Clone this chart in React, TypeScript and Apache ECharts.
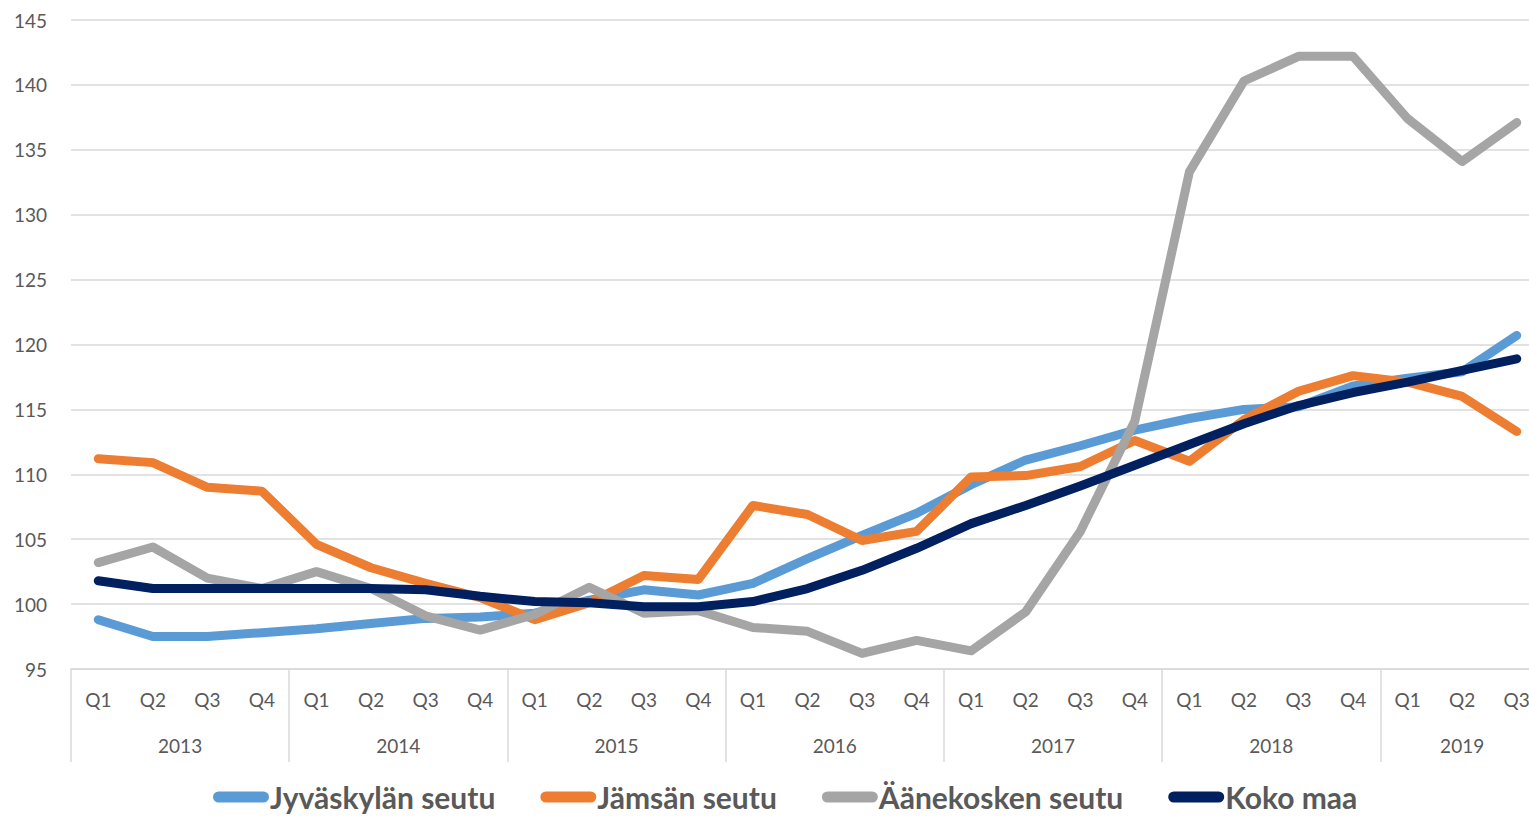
import React, { useEffect, useRef } from "react";
import * as echarts from "echarts";

const quarters = [
  "Q1","Q2","Q3","Q4","Q1","Q2","Q3","Q4","Q1","Q2","Q3","Q4","Q1","Q2","Q3","Q4",
  "Q1","Q2","Q3","Q4","Q1","Q2","Q3","Q4","Q1","Q2","Q3",
];
const yearOfQuarter = [
  "2013","2013","2013","2013","2014","2014","2014","2014","2015","2015","2015","2015",
  "2016","2016","2016","2016","2017","2017","2017","2017","2018","2018","2018","2018",
  "2019","2019","2019",
];

const seriesNames = ["Jyväskylän seutu", "Jämsän seutu", "Äänekosken seutu", "Koko maa"];
const seriesColors = ["#5B9BD5", "#ED7D31", "#A5A5A5", "#002060"];

const jyvaskyla = [
  98.8, 97.5, 97.5, 97.8, 98.1, 98.5, 98.9, 99.0, 99.3, 100.3, 101.1, 100.7, 101.6, 103.5,
  105.3, 107.0, 109.2, 111.1, 112.2, 113.4, 114.3, 115.0, 115.2, 116.8, 117.4, 117.9, 120.7,
];
const jamsa = [
  111.2, 110.9, 109.0, 108.7, 104.6, 102.8, 101.6, 100.5, 98.8, 100.1, 102.2, 101.9, 107.6,
  106.9, 104.9, 105.6, 109.8, 109.9, 110.6, 112.6, 111.0, 114.2, 116.4, 117.6, 117.1, 116.0, 113.3,
];
const aanekoski = [
  103.2, 104.4, 102.0, 101.2, 102.5, 101.2, 99.1, 98.0, 99.2, 101.3, 99.3, 99.5, 98.2, 97.9,
  96.2, 97.2, 96.4, 99.4, 105.6, 114.1, 133.3, 140.3, 142.2, 142.2, 137.4, 134.1, 137.1,
];
const kokoMaa = [
  101.8, 101.2, 101.2, 101.2, 101.2, 101.2, 101.1, 100.6, 100.2, 100.1, 99.8, 99.8, 100.2,
  101.2, 102.6, 104.3, 106.2, 107.6, 109.1, 110.7, 112.3, 113.9, 115.3, 116.3, 117.1, 118.0, 118.9,
];
const allValues = [jyvaskyla, jamsa, aanekoski, kokoMaa];

const yMin = 95;
const yMax = 145;
const yStep = 5;

const FONT = "Lato, Carlito, Calibri, sans-serif";
const TXT = "#595959";
const GRIDC = "#D9D9D9";
const pill = "path://M6,0 L54,0 A6,6 0 0 1 54,12 L6,12 A6,6 0 0 1 6,0 Z";

export default function App() {
  const ref = useRef<HTMLDivElement>(null);
  useEffect(() => {
    document.body.style.margin = "0";
    document.body.style.overflow = "hidden";
    document.documentElement.style.overflow = "hidden";
    const chart = echarts.init(ref.current!, null, { renderer: "svg" });
    chart.setOption({
      animation: false,
      backgroundColor: "#ffffff",
      textStyle: { fontFamily: FONT },
      grid: { left: 71, top: 20, right: 1, bottom: 147, containLabel: false },
      legend: {
        left: 208,
        top: 777,
        itemWidth: 56,
        itemHeight: 12,
        itemGap: 45,
        icon: pill,
        textStyle: {
          color: TXT,
          fontSize: 30,
          lineHeight: 30,
          fontWeight: "bold",
          fontFamily: FONT,
          padding: [0, 0, 0, -4],
        },
        data: seriesNames.map((n) => ({ name: n, icon: pill })),
      },
      xAxis: [
        {
          type: "category",
          data: quarters,
          boundaryGap: true,
          axisLine: { show: true, lineStyle: { color: GRIDC, width: 1.5 } },
          axisTick: {
            show: true,
            interval: (i: number) => i % 4 === 0,
            length: 93,
            lineStyle: { color: GRIDC, width: 1.5 },
          },
          axisLabel: { interval: 0, color: TXT, fontSize: 19, margin: 21, fontFamily: FONT },
          splitLine: { show: false },
        },
        {
          type: "category",
          data: yearOfQuarter,
          position: "bottom",
          offset: 0,
          boundaryGap: true,
          axisLine: { show: false },
          axisTick: { show: false },
          axisLabel: {
            interval: (i: number) => i % 4 === 1,
            color: TXT,
            fontSize: 19,
            margin: 67,
            fontFamily: FONT,
            formatter: (v: string, i: number) => (i === 25 ? `{c|${v}}` : `{s|${v}}`),
            rich: {
              c: { color: TXT, fontSize: 19, fontFamily: FONT },
              s: { color: TXT, fontSize: 19, fontFamily: FONT, padding: [0, 0, 0, 54.6] },
            },
          },
        },
      ],
      yAxis: {
        type: "value",
        min: yMin,
        max: yMax,
        interval: yStep,
        axisLine: { show: false },
        axisTick: { show: false },
        axisLabel: { color: TXT, fontSize: 19, margin: 24, fontFamily: FONT },
        splitLine: { lineStyle: { color: GRIDC, width: 1.5 } },
      },
      series: seriesNames.map((name, k) => ({
        name,
        type: "line",
        xAxisIndex: 0,
        data: allValues[k],
        symbol: "none",
        color: seriesColors[k],
        lineStyle: { width: 9, color: seriesColors[k], cap: "round", join: "round" },
      })),
    });
    return () => chart.dispose();
  }, []);
  return (
    <div
      ref={ref}
      style={{ position: "fixed", left: 0, top: 0, width: 1545, height: 816, background: "#fff" }}
    />
  );
}
